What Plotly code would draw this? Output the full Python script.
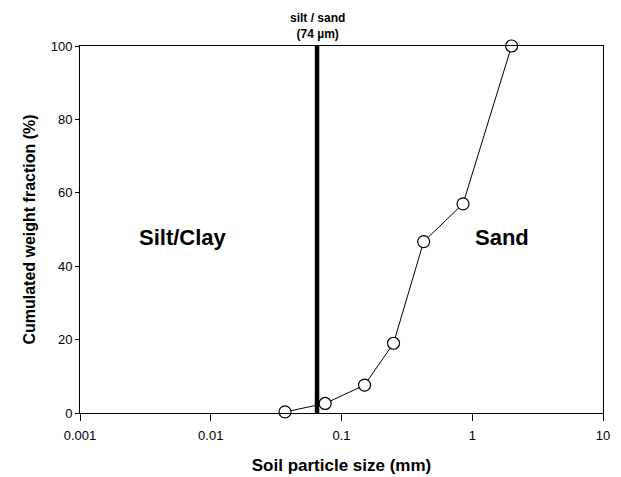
import math
import plotly.graph_objects as go

particle_size_mm = [0.037, 0.075, 0.15, 0.25, 0.425, 0.85, 2.0]
cum_weight_pct = [0.3, 2.6, 7.6, 19.0, 46.7, 57.0, 100.0]
boundary_mm = 0.065
x_tick_vals = [0.001, 0.01, 0.1, 1, 10]
x_tick_text = ["0.001", "0.01", "0.1", "1", "10"]
y_tick_vals = [0, 20, 40, 60, 80, 100]
region_labels = ["Silt/Clay", "Sand"]
region_label_x_mm = [0.00614, 1.69]
region_label_y = 47.7

FONT = "Liberation Sans, Arial, sans-serif"

fig = go.Figure()
fig.add_trace(go.Scatter(
    x=[boundary_mm, boundary_mm], y=[0, 100], mode="lines",
    line=dict(color="black", width=4.5), showlegend=False, hoverinfo="skip"))
fig.add_trace(go.Scatter(
    x=particle_size_mm, y=cum_weight_pct, mode="lines+markers",
    line=dict(color="black", width=1),
    marker=dict(size=12, color="white", line=dict(color="black", width=1.2)),
    showlegend=False, cliponaxis=False))

fig.add_annotation(x=math.log10(boundary_mm), y=100, xref="x", yref="y", yshift=3,
                   text="<b>silt / sand</b><br><b>(74 µm)</b>", showarrow=False,
                   yanchor="bottom", font=dict(family=FONT, size=12, color="black"))
for lbl, xm in zip(region_labels, region_label_x_mm):
    fig.add_annotation(x=math.log10(xm), y=region_label_y, xref="x", yref="y",
                       text=f"<b>{lbl}</b>", showarrow=False,
                       font=dict(family=FONT, size=22, color="black"))

fig.update_layout(
    width=613, height=469,
    margin=dict(l=72, r=18, t=38, b=64),
    paper_bgcolor="white", plot_bgcolor="white",
    font=dict(family=FONT, color="black", size=13),
    xaxis=dict(type="log", range=[-3, 1], tickvals=x_tick_vals, ticktext=x_tick_text,
               ticks="outside", ticklen=7, tickwidth=1, tickcolor="black",
               ticklabelstandoff=3,
               showline=True, linecolor="black", linewidth=1, mirror=True,
               showgrid=False, zeroline=False, automargin=False,
               title=dict(text="<b>Soil particle size (mm)</b>", font=dict(size=17), standoff=17)),
    yaxis=dict(range=[0, 100], tickvals=y_tick_vals,
               ticks="outside", ticklen=4, tickwidth=1, tickcolor="black",
               showline=True, linecolor="black", linewidth=1, mirror=True,
               showgrid=False, zeroline=False, automargin=False,
               title=dict(text="<b>Cumulated weight fraction (%)</b>", font=dict(size=16), standoff=11)),
)

fig.write_html("out.html")
